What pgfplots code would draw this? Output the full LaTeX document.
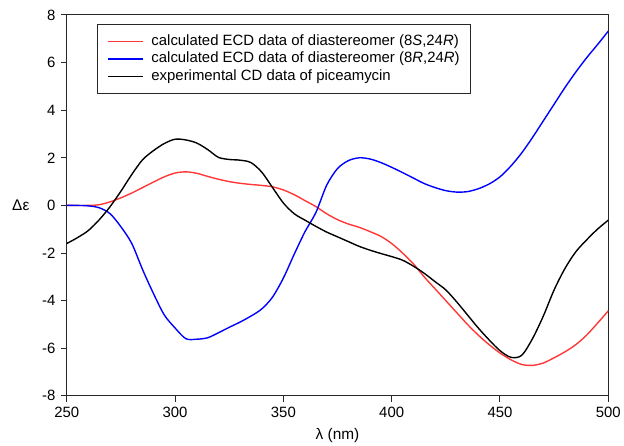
\documentclass[border=0pt]{standalone}
\usepackage{pgfplots}
\pgfplotsset{compat=1.18}
\usepackage{fontspec}
\setmainfont{Liberation Sans}
\definecolor{cred}{RGB}{255,55,55}
\definecolor{cblue}{RGB}{0,0,255}
\definecolor{frame}{RGB}{40,40,40}
\begin{document}
\begin{tikzpicture}
\begin{axis}[
  at={(0,0)}, anchor=south west,
  scale only axis, width=543bp, height=382bp,
  xmin=250, xmax=500, ymin=-8, ymax=8,
  xtick={250,300,350,400,450,500},
  ytick={-8,-6,-4,-2,0,2,4,6,8},
  minor tick num=0,
  tick pos=left, tick align=outside,
  major tick length=6bp,
  axis line style={frame, line width=1pt},
  every tick/.style={frame, line width=1pt},
  /pgf/number format/assume math mode=true,
  /pgf/number format/.cd, 1000 sep={}, /pgfplots/.cd,
  ticklabel style={font=\fontsize{15}{18}\selectfont},
  xticklabel style={yshift=-2bp},
  yticklabel style={xshift=-2bp},
  xlabel={λ (nm)},
  xlabel style={font=\fontsize{15.5}{18}\selectfont, at={(axis description cs:0.5,0)}, anchor=north, yshift=-29bp},
  ylabel={Δε},
  ylabel style={font=\fontsize{15.5}{18}\selectfont, rotate=-90, at={(axis cs:250,0)}, anchor=east, xshift=-34bp},
  legend style={at={(30bp,373bp)}, anchor=north west, draw=frame, line width=1pt,
    font=\fontsize{15}{18}\selectfont, inner xsep=10bp, inner ysep=9bp,
    row sep=1bp, nodes={inner sep=1bp, text height=11bp, text depth=3.5bp},
    /tikz/every odd column/.append style={column sep=7bp},
    cells={anchor=west}},
  legend cell align=left,
  legend image code/.code={\draw[mark repeat=2,mark phase=2,#1] plot coordinates {(0bp,0bp) (17.5bp,0bp) (35bp,0bp)};},
]
\addplot[cred, line width=1.4pt, smooth] coordinates {
(250,0) (260,0.0) (265,0.03) (270,0.15) (275,0.32) (280,0.52) (285,0.75) (290,0.98) (295,1.2) (300,1.36) (305,1.41) (310,1.35) (315,1.22) (320,1.1) (325,1.0) (330,0.93) (335,0.88) (340,0.84) (345,0.78) (350,0.65) (355,0.45) (360,0.2) (365,-0.05) (370,-0.35) (375,-0.6) (380,-0.78) (385,-0.92) (390,-1.1) (395,-1.3) (400,-1.6) (405,-2.0) (410,-2.45) (415,-3.0) (420,-3.5) (425,-4.0) (430,-4.5) (435,-5.0) (440,-5.45) (445,-5.85) (450,-6.2) (455,-6.48) (460,-6.68) (465,-6.72) (470,-6.62) (475,-6.4) (480,-6.15) (485,-5.85) (490,-5.45) (495,-4.95) (500,-4.43)
};
\addlegendentry{calculated ECD data of diastereomer (8\textit{S},24\textit{R})}
\addplot[cblue, line width=1.4pt, smooth] coordinates {
(250,0) (255,0) (260,-0.02) (265,-0.1) (270,-0.35) (275,-0.9) (280,-1.6) (285,-2.7) (290,-3.7) (295,-4.6) (300,-5.15) (305,-5.6) (310,-5.62) (315,-5.56) (320,-5.35) (325,-5.12) (330,-4.9) (335,-4.65) (340,-4.35) (345,-3.85) (350,-3.05) (355,-2.05) (360,-1.1) (365,-0.3) (370,0.85) (375,1.55) (380,1.88) (385,2.0) (390,1.95) (395,1.8) (400,1.6) (405,1.38) (410,1.15) (415,0.92) (420,0.75) (425,0.62) (430,0.56) (435,0.58) (440,0.7) (445,0.9) (450,1.2) (455,1.65) (460,2.2) (465,2.85) (470,3.55) (475,4.25) (480,4.95) (485,5.6) (490,6.2) (495,6.75) (500,7.32)
};
\addlegendentry{calculated ECD data of diastereomer (8\textit{R},24\textit{R})}
\addplot[black, line width=1.4pt, smooth] coordinates {
(250,-1.6) (255,-1.35) (260,-1.05) (265,-0.6) (270,-0.05) (275,0.6) (280,1.3) (285,1.92) (290,2.3) (295,2.6) (300,2.78) (305,2.75) (310,2.62) (315,2.35) (320,2.02) (325,1.93) (330,1.9) (335,1.8) (340,1.4) (345,0.75) (350,0.1) (355,-0.35) (360,-0.62) (365,-0.88) (370,-1.12) (375,-1.32) (380,-1.52) (385,-1.72) (390,-1.88) (395,-2.02) (400,-2.15) (405,-2.3) (410,-2.55) (415,-2.85) (420,-3.2) (425,-3.55) (430,-4.05) (435,-4.6) (440,-5.15) (445,-5.65) (450,-6.1) (455,-6.38) (460,-6.3) (465,-5.6) (470,-4.65) (475,-3.55) (480,-2.65) (485,-1.95) (490,-1.45) (495,-1.0) (500,-0.62)
};
\addlegendentry{experimental CD data of piceamycin}
\end{axis}
\path[use as bounding box] (-67bp,-46bp) rectangle (557bp,397bp);
\end{tikzpicture}
\end{document}
